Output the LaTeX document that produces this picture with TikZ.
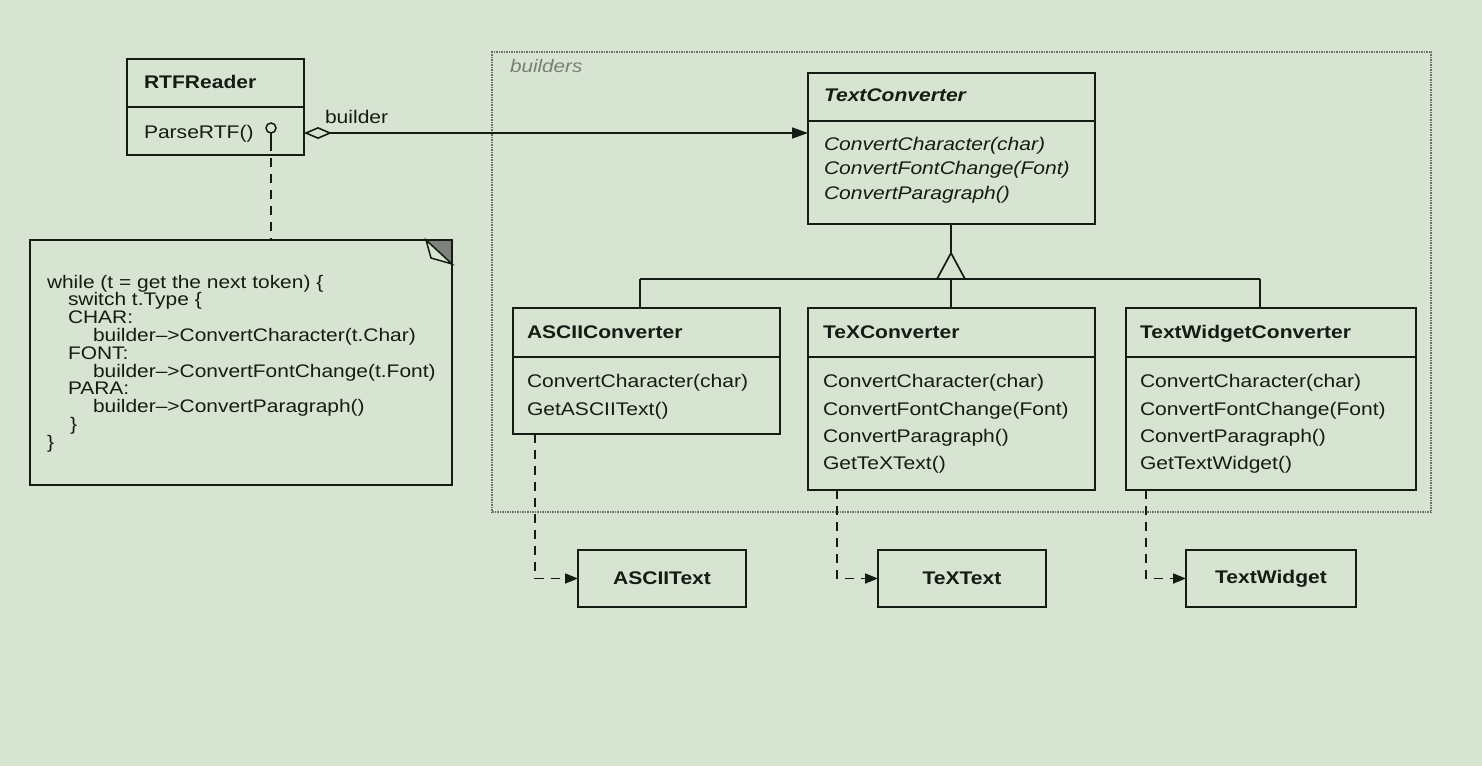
\documentclass[tikz,border=0pt]{standalone}
\usepackage{fontspec}
\setmainfont{Liberation Sans}[FakeStretch=1.15]
\usetikzlibrary{arrows.meta}
\definecolor{bg}{RGB}{216,228,210}
\definecolor{ink}{RGB}{20,28,20}
\definecolor{framegray}{RGB}{105,112,103}
\definecolor{labelgray}{RGB}{120,128,118}
\begin{document}
\begin{tikzpicture}[x=1pt,y=-1pt,
  every node/.style={inner sep=0pt,outer sep=0pt,text=ink},
  box/.style={draw=ink,line width=1.9pt,rectangle,anchor=north west},
  rule/.style={draw=ink,line width=1.7pt},
  title/.style={anchor=base west,font=\fontsize{18.3}{20}\selectfont\bfseries},
  meth/.style={anchor=base west,font=\fontsize{18.3}{20}\selectfont},
  imeth/.style={anchor=base west,font=\fontsize{18.3}{20}\selectfont\itshape},
  code/.style={anchor=base west,font=\fontsize{18.2}{19}\selectfont},
  objtext/.style={font=\fontsize{18.3}{20}\selectfont\bfseries},
  conn/.style={draw=ink,line width=1.7pt},
  dep/.style={draw=ink,line width=1.7pt,dash pattern=on 9pt off 7pt},
  smalltip/.style={-{Triangle[length=13pt,width=10pt]}}
]
\fill[bg] (0,0) rectangle (1482,766);
\useasboundingbox (0,0) rectangle (1482,766);

% builders frame
\node[draw=framegray,line width=1.5pt,dash pattern=on 1.5pt off 1pt,rectangle,anchor=north west,
  minimum width=939pt,minimum height=460pt] (builders) at (492,52) {};
\node[anchor=base west,text=labelgray,font=\fontsize{18}{20}\selectfont\itshape] (builderslbl) at (510,72) {builders};

% RTFReader
\node[box,minimum width=177pt,minimum height=96pt] (rtf) at (127,59) {};
\draw[rule] (127,107) -- (304,107);
\node[title] (rtfT) at (144,88) {RTFReader};
\node[meth] (rtfM) at (144,138) {ParseRTF()};
\node[circle,draw=ink,line width=1.5pt,minimum size=10pt] (lolli) at (271,128) {};

% note
\node[rectangle,anchor=north west,minimum width=422pt,minimum height=245pt] (note) at (30,240) {};
\draw[conn,line width=1.9pt] (note.north west) -- (426,240) -- (452,264) -- (note.south east) -- (note.south west) -- cycle;
\fill[ink!55] (426,240) -- (452,240) -- (452,264) -- cycle;
\draw[conn,line width=1.5pt,fill=bg] (426,240) -- (431,258) -- (452,264) -- cycle;
\draw[conn,line width=1.5pt] (426,240) -- (452,240) -- (452,264);
\node[code] (c1) at (47,288) {while (t = get the next token) \{};
\node[code] (c2) at (68,305.8) {switch t.Type \{};
\node[code] (c3) at (68,323.6) {CHAR:};
\node[code] (c4) at (93,341.4) {builder\textendash{}>ConvertCharacter(t.Char)};
\node[code] (c5) at (68,359.2) {FONT:};
\node[code] (c6) at (93,377) {builder\textendash{}>ConvertFontChange(t.Font)};
\node[code] (c7) at (68,394.8) {PARA:};
\node[code] (c8) at (93,412.6) {builder\textendash{}>ConvertParagraph()};
\node[code] (c9) at (70,430.4) {\}};
\node[code] (c10) at (47,448.2) {\}};

% lollipop to note
\draw[conn] (lolli.south) -- (271,142);
\draw[dep] (271,142) -- (lolli.south |- note.north);

% TextConverter
\node[box,minimum width=287pt,minimum height=151pt] (tc) at (808,73) {};
\draw[rule] (808,121) -- (1095,121);
\node[title,font=\fontsize{18.3}{20}\selectfont\bfseries\itshape] (tcT) at (824,101) {TextConverter};
\node[imeth] (tc1) at (824,150) {ConvertCharacter(char)};
\node[imeth] (tc2) at (824,174.5) {ConvertFontChange(Font)};
\node[imeth] (tc3) at (824,199) {ConvertParagraph()};

% aggregation
\coordinate (aggpt) at (304,133);
\draw[conn,{Diamond[open,length=28pt,width=12pt,line width=1.6pt]}-{Triangle[length=16pt,width=11pt]}] (aggpt) -- (aggpt -| tc.west);
\node[anchor=base west,font=\fontsize{18.3}{20}\selectfont] (aggl) at (325,123) {builder};

% ASCIIConverter
\node[box,minimum width=267pt,minimum height=126pt] (ascii) at (513,308) {};
\draw[rule] (513,357) -- (780,357);
\node[title] (asciiT) at (527,338) {ASCIIConverter};
\node[meth] (ascii1) at (527,387) {ConvertCharacter(char)};
\node[meth] (ascii2) at (527,415) {GetASCIIText()};

% TeXConverter
\node[box,minimum width=287pt,minimum height=182pt] (tex) at (808,308) {};
\draw[rule] (808,357) -- (1095,357);
\node[title] (texT) at (823,338) {TeXConverter};
\node[meth] (tex1) at (823,387) {ConvertCharacter(char)};
\node[meth] (tex2) at (823,415) {ConvertFontChange(Font)};
\node[meth] (tex3) at (823,442) {ConvertParagraph()};
\node[meth] (tex4) at (823,469) {GetTeXText()};

% TextWidgetConverter
\node[box,minimum width=290pt,minimum height=182pt] (tw) at (1126,308) {};
\draw[rule] (1126,357) -- (1416,357);
\node[title] (twT) at (1140,338) {TextWidgetConverter};
\node[meth] (tw1) at (1140,387) {ConvertCharacter(char)};
\node[meth] (tw2) at (1140,415) {ConvertFontChange(Font)};
\node[meth] (tw3) at (1140,442) {ConvertParagraph()};
\node[meth] (tw4) at (1140,469) {GetTextWidget()};

% generalization
\coordinate (apex) at (951,253);
\coordinate (bar) at (951,279);
\draw[conn] (tc.south -| apex) -- (apex);
\draw[conn,line width=1.7pt] (apex) -- (937,279) -- (965,279) -- cycle;
\draw[conn] (640,279) -- (1260,279);
\draw[conn] (640,279) -- (640,308);
\draw[conn] (bar) -- (bar |- tex.north);
\draw[conn] (1260,279) -- (1260,308);

% object boxes
\node[box,minimum width=168pt,minimum height=57pt] (at) at (578,550) {};
\node[objtext] (atT) at (at.center) {ASCIIText};
\node[box,minimum width=168pt,minimum height=57pt] (tt) at (878,550) {};
\node[objtext] (ttT) at (tt.center) {TeXText};
\node[box,minimum width=170pt,minimum height=57pt] (wt) at (1186,550) {};
\node[objtext] (wtT) at (wt.center) {TextWidget};

% dependencies
\coordinate (d1) at (535,434);
\coordinate (d2) at (837,490);
\coordinate (d3) at (1146,490);
\draw[dep,smalltip] (d1) -- (d1 |- at.west) -- (at.west);
\draw[dep,smalltip] (d2) -- (d2 |- tt.west) -- (tt.west);
\draw[dep,smalltip] (d3) -- (d3 |- wt.west) -- (wt.west);
\end{tikzpicture}
\end{document}
